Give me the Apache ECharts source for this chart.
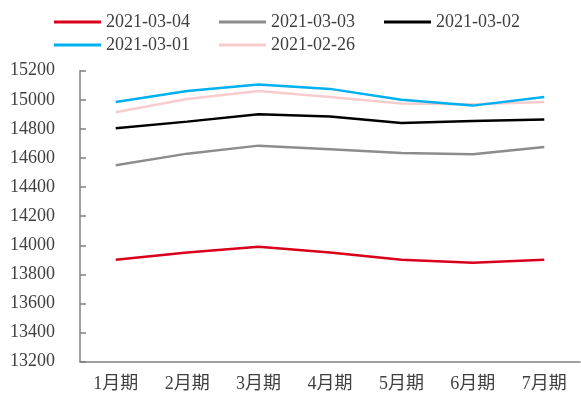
<!DOCTYPE html>
<html>
<head>
<meta charset="utf-8">
<script src="https://cdn.jsdelivr.net/npm/echarts@6/dist/echarts.min.js"></script>
<style>
  html, body { margin: 0; padding: 0; background: #fff; }
  #chart { width: 581px; height: 394px; }
</style>
</head>
<body>
<div id="chart"></div>
<script>
// Contract months on the x axis
const categories = ['1月期', '2月期', '3月期', '4月期', '5月期', '6月期', '7月期'];

// Y axis range and step
const yMin = 13200;
const yMax = 15200;
const yStep = 200;

// Futures curve by trading date
const d20210304 = [13900, 13950, 13990, 13950, 13900, 13880, 13900];
const d20210303 = [14550, 14630, 14685, 14660, 14635, 14625, 14675];
const d20210302 = [14805, 14850, 14900, 14885, 14840, 14855, 14865];
const d20210301 = [14985, 15060, 15105, 15075, 15000, 14960, 15020];
const d20210226 = [14915, 15005, 15060, 15020, 14975, 14970, 14985];

const seriesDefs = [
  { name: '2021-03-04', data: d20210304, color: '#d9001b' },
  { name: '2021-03-03', data: d20210303, color: '#8c8c8c' },
  { name: '2021-03-02', data: d20210302, color: '#000000' },
  { name: '2021-03-01', data: d20210301, color: '#00b0f0' },
  { name: '2021-02-26', data: d20210226, color: '#f8cccc' }
];

const FONT = '"Liberation Serif", "Noto Sans CJK SC", serif';
const TEXT_COLOR = '#404040';
const AXIS_COLOR = '#808080';

const legendBase = {
  left: 54,
  padding: 0,
  icon: 'rect',
  itemWidth: 47,
  itemHeight: 3,
  itemGap: 29,
  textStyle: { fontFamily: FONT, fontSize: 18, color: TEXT_COLOR }
};

const chart = echarts.init(document.getElementById('chart'), null, { renderer: 'canvas' });
chart.setOption({
  animation: false,
  backgroundColor: '#ffffff',
  legend: [
    Object.assign({}, legendBase, { top: 13, data: seriesDefs.slice(0, 3).map(s => s.name) }),
    Object.assign({}, legendBase, { top: 36, data: seriesDefs.slice(3).map(s => s.name) })
  ],
  grid: { left: 80, right: 1, top: 70.7, bottom: 32.3, containLabel: false },
  xAxis: {
    type: 'category',
    data: categories,
    boundaryGap: true,
    axisLine: { lineStyle: { color: AXIS_COLOR, width: 1.5 } },
    axisTick: { inside: true, length: 5, lineStyle: { color: AXIS_COLOR, width: 1.5 } },
    axisLabel: { fontFamily: FONT, fontSize: 18, color: TEXT_COLOR, margin: 14 },
    splitLine: { show: false }
  },
  yAxis: {
    type: 'value',
    min: yMin,
    max: yMax,
    interval: yStep,
    axisLine: { show: true, lineStyle: { color: AXIS_COLOR, width: 1.5 } },
    axisTick: { show: true, inside: true, length: 6, lineStyle: { color: AXIS_COLOR, width: 1.5 } },
    axisLabel: {
      fontFamily: FONT, fontSize: 18, color: TEXT_COLOR, margin: 25,
      formatter: v => String(v)
    },
    splitLine: { show: false }
  },
  series: seriesDefs.map(s => ({
    name: s.name,
    type: 'line',
    data: s.data,
    showSymbol: false,
    symbol: 'none',
    smooth: false,
    color: s.color,
    lineStyle: { color: s.color, width: 2.5 },
    z: s.name === '2021-02-26' ? 1 : 2
  }))
});
</script>
</body>
</html>
